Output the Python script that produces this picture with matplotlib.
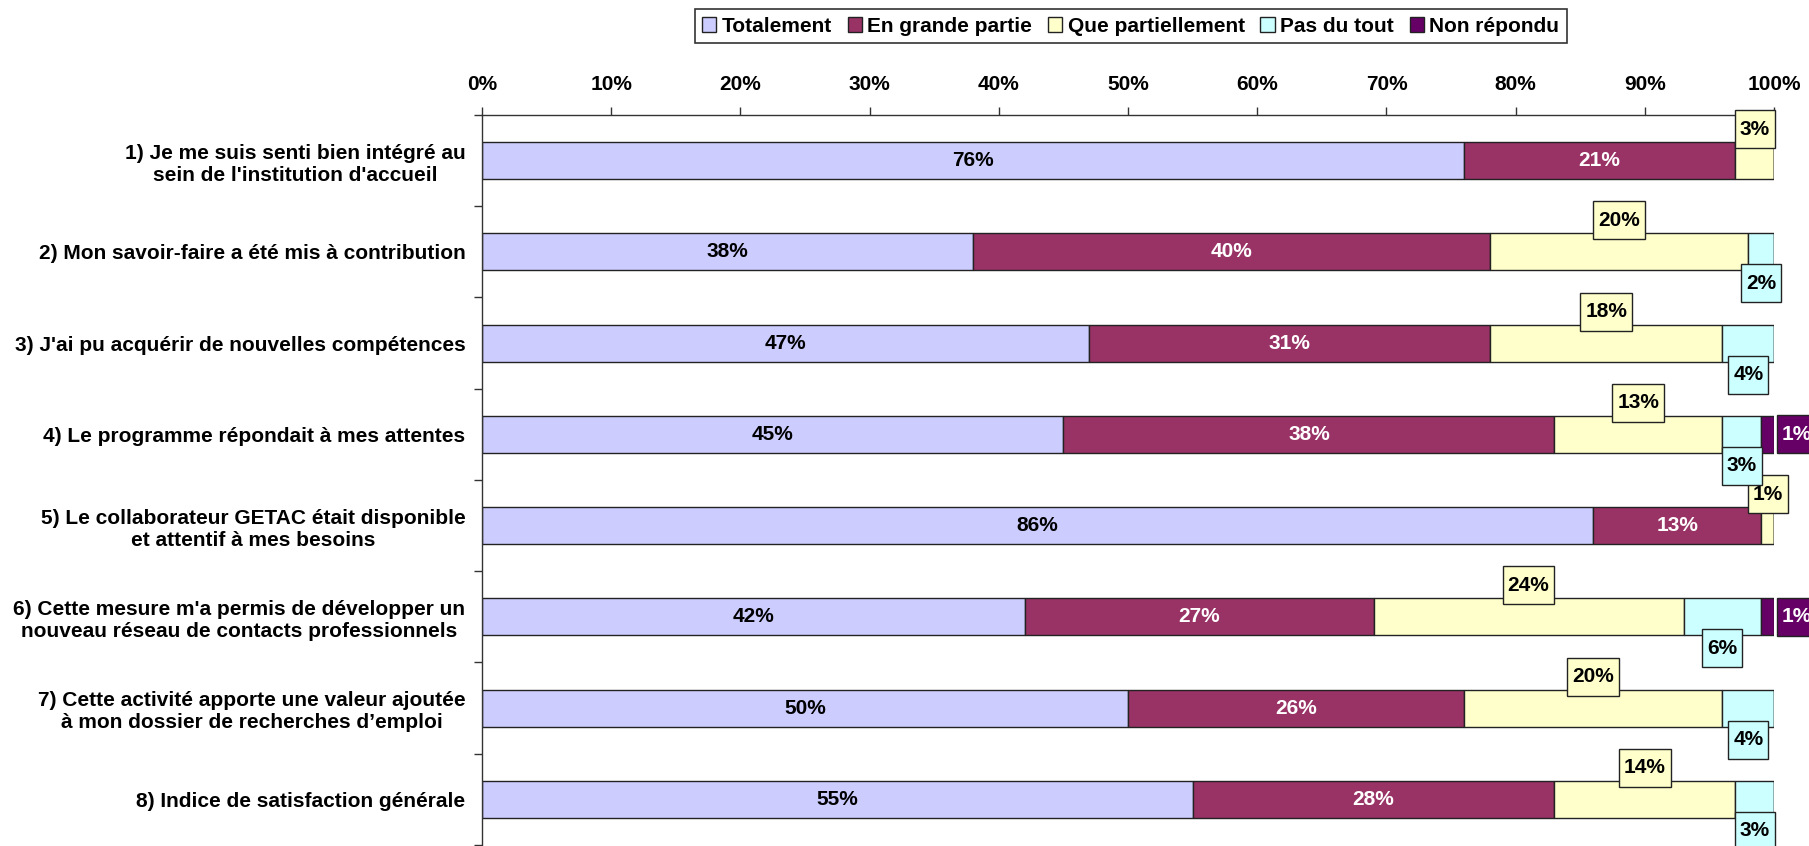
import matplotlib.pyplot as plt
import numpy as np
from matplotlib.patches import Patch, Rectangle
from matplotlib.transforms import IdentityTransform

plt.rcParams["font.family"] = ["Liberation Sans", "DejaVu Sans"]
plt.rcParams["font.weight"] = "bold"

questions = [
    "1) Je me suis senti bien intégré au\nsein de l'institution d'accueil",
    "2) Mon savoir-faire a été mis à contribution",
    "3) J'ai pu acquérir de nouvelles compétences",
    "4) Le programme répondait à mes attentes",
    "5) Le collaborateur GETAC était disponible\net attentif à mes besoins",
    "6) Cette mesure m'a permis de développer un\nnouveau réseau de contacts professionnels",
    "7) Cette activité apporte une valeur ajoutée\nà mon dossier de recherches d\u2019emploi",
    "8) Indice de satisfaction générale",
]
answers = ["Totalement", "En grande partie", "Que partiellement", "Pas du tout", "Non répondu"]

totalement = [76, 38, 47, 45, 86, 42, 50, 55]
grande_partie = [21, 40, 31, 38, 13, 27, 26, 28]
partiellement = [3, 20, 18, 13, 1, 24, 20, 14]
pas_du_tout = [0, 2, 4, 3, 0, 6, 4, 3]
non_repondu = [0, 0, 0, 1, 0, 1, 0, 0]

colors = ["#CCCCFF", "#993366", "#FFFFCC", "#CCFFFF", "#660066"]
text_colors = ["black", "white", "black", "black", "white"]

series = np.array([totalement, grande_partie, partiellement, pas_du_tout, non_repondu]) / 100.0

fig = plt.figure(figsize=(18.09, 8.46), dpi=100)
ax = fig.add_axes([0.2665, 0.0012, 0.7142, 0.8629])

fs = 15
y = np.arange(len(questions))
bar_h = 0.405
left = np.zeros(len(questions))
boxed = []  # (text, facecolor, anchor) for labels drawn outside the bars
for k, (vals, col) in enumerate(zip(series, colors)):
    ax.barh(y, vals, left=left, height=bar_h, color=col, edgecolor="#222222",
            linewidth=1.0, label=answers[k])
    for i, v in enumerate(vals):
        if v <= 0:
            continue
        txt = f"{v * 100:.0f}%"
        cx = left[i] + v / 2
        if k < 2:
            ax.text(cx, y[i], txt, ha="center", va="center", fontsize=fs,
                    fontweight="bold", color=text_colors[k])
            continue
        if k == 2:
            pos, ha = (cx, y[i] - 0.345), "center"
        elif k == 3:
            pos, ha = (cx, y[i] + 0.345), "center"
        else:
            pos, ha = (left[i] + v + 0.006, y[i]), "left"
        t = ax.text(pos[0], pos[1], txt, ha=ha, va="center", fontsize=fs,
                    fontweight="bold", color=text_colors[k], clip_on=False, zorder=6)
        boxed.append((t, col, pos))
    left += vals

ax.set_xlim(0, 1)
ax.set_ylim(len(questions) - 0.5, -0.5)

ax.xaxis.tick_top()
ax.set_xticks(np.linspace(0, 1, 11))
ax.set_xticklabels([f"{p}%" for p in range(0, 101, 10)])
ax.tick_params(axis="x", direction="out", length=6, width=1, pad=9,
               labelsize=fs, color="#333333")

ax.set_yticks(y)
ax.set_yticklabels(questions, ha="right", multialignment="center")
ax.set_yticks(np.arange(-0.5, len(questions) + 0.5, 1), minor=True)
ax.tick_params(axis="y", which="major", length=0, pad=12, labelsize=fs)
ax.tick_params(axis="y", which="minor", direction="out", length=6, width=1,
               color="#333333")

for side in ("right", "bottom"):
    ax.spines[side].set_visible(False)
for side in ("top", "left"):
    ax.spines[side].set_color("#333333")
    ax.spines[side].set_linewidth(1.0)

handles = [Patch(facecolor=c, edgecolor="#222222", label=a) for c, a in zip(colors, answers)]
leg = fig.legend(handles=handles, loc="upper center", bbox_to_anchor=(0.625, 0.989),
                 ncol=5, fontsize=fs, frameon=True, fancybox=False,
                 handlelength=0.7, handleheight=0.7, handletextpad=0.25,
                 columnspacing=0.75, borderpad=0.35, borderaxespad=0)
leg.get_frame().set_edgecolor("black")
leg.get_frame().set_linewidth(1.2)
for t in leg.get_texts():
    t.set_fontweight("bold")

# label boxes: fixed height, width follows the text
fig.canvas.draw()
renderer = fig.canvas.get_renderer()
for t, col, pos in boxed:
    bb = t.get_window_extent(renderer)
    cy = ax.transData.transform(pos)[1]
    rect = Rectangle((bb.x0 - 5, cy - 19), bb.width + 10, 38, transform=IdentityTransform(),
                     facecolor=col, edgecolor="#222222", linewidth=1.0, zorder=5,
                     clip_on=False)
    ax.add_artist(rect)

fig.savefig("out.png", dpi=100)
